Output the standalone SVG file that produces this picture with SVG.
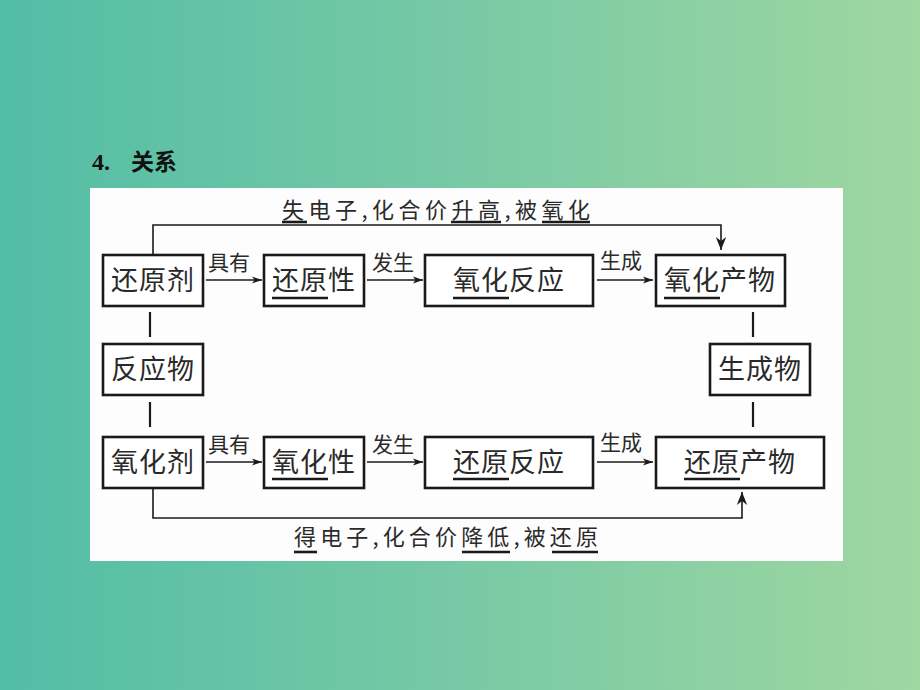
<svg xmlns="http://www.w3.org/2000/svg" width="920" height="690" viewBox="0 0 920 690">
<defs>
<linearGradient id="bg" x1="0" y1="0" x2="1" y2="0">
<stop offset="0" stop-color="#52bda6"/>
<stop offset="0.5" stop-color="#78c9a5"/>
<stop offset="1" stop-color="#9fd7a1"/>
</linearGradient>
<marker id="ah" viewBox="0 0 10 10" refX="10" refY="5" markerWidth="10" markerHeight="10" markerUnits="userSpaceOnUse" orient="auto">
<path d="M0,1.5 L10,5 L0,8.5 L2.5,5 Z" fill="#1a1a1a"/>
</marker>
<marker id="ah2" viewBox="0 0 10 10" refX="10" refY="5" markerWidth="13" markerHeight="13" markerUnits="userSpaceOnUse" orient="auto">
<path d="M0,1 L10,5 L0,9 L3,5 Z" fill="#1a1a1a"/>
</marker>
</defs>
<style>
.box{fill:#fff;stroke:#1a1a1a;stroke-width:2.6}
.t{font-family:"Noto Sans CJK SC","Noto Sans CJK JP",sans-serif;font-size:27px;fill:#2a2a2a;text-anchor:middle;letter-spacing:1px}
.lbl{font-family:"Noto Sans CJK SC","Noto Sans CJK JP",sans-serif;font-size:21px;fill:#2a2a2a}
.cap{font-family:"Noto Sans CJK SC","Noto Sans CJK JP",sans-serif;font-size:22px;fill:#2a2a2a}
.ul{stroke:#1a1a1a;stroke-width:2.6}
.ln{stroke:#1a1a1a;stroke-width:1.6;fill:none}
.vl{stroke:#1a1a1a;stroke-width:2.2}
</style>
<rect width="920" height="690" fill="url(#bg)"/>
<text x="92" y="170" font-family="Liberation Serif,serif" font-size="24" font-weight="bold" fill="#111">4.</text>
<text x="131" y="170" font-family="Noto Sans CJK SC,sans-serif" font-size="23" font-weight="bold" fill="#111">关系</text>
<rect x="90" y="188" width="753" height="373" fill="#fdfdfd"/>

<g id="connectors">
<path class="ln" d="M153,255 V225 H721 V250" marker-end="url(#ah2)"/>
<path class="ln" d="M153,488 V518 H742 V492" marker-end="url(#ah2)"/>
<line class="ln" x1="206" y1="280" x2="262" y2="280" marker-end="url(#ah)"/>
<line class="ln" x1="367" y1="280" x2="423" y2="280" marker-end="url(#ah)"/>
<line class="ln" x1="597" y1="280" x2="653" y2="280" marker-end="url(#ah)"/>
<line class="ln" x1="206" y1="462" x2="262" y2="462" marker-end="url(#ah)"/>
<line class="ln" x1="367" y1="462" x2="423" y2="462" marker-end="url(#ah)"/>
<line class="ln" x1="597" y1="462" x2="653" y2="462" marker-end="url(#ah)"/>
<line class="vl" x1="150" y1="312" x2="150" y2="337"/>
<line class="vl" x1="150" y1="402" x2="150" y2="427"/>
<line class="vl" x1="753" y1="312" x2="753" y2="337"/>
<line class="vl" x1="753" y1="402" x2="753" y2="427"/>
<text class="lbl" x="208" y="270">具有</text>
<text class="lbl" x="372" y="270">发生</text>
<text class="lbl" x="600" y="268">生成</text>
<text class="lbl" x="208" y="452">具有</text>
<text class="lbl" x="372" y="452">发生</text>
<text class="lbl" x="600" y="450">生成</text>
<text class="cap" x="282" y="218" textLength="308" lengthAdjust="spacing">失电子,化合价升高,被氧化</text>
<line class="ul" x1="282" y1="222" x2="307" y2="222"/>
<line class="ul" x1="451" y1="222" x2="501" y2="222"/>
<line class="ul" x1="542" y1="222" x2="590" y2="222"/>
<text class="cap" x="294" y="545" textLength="304" lengthAdjust="spacing">得电子,化合价降低,被还原</text>
<line class="ul" x1="294" y1="552" x2="317" y2="552"/>
<line class="ul" x1="462" y1="552" x2="510" y2="552"/>
<line class="ul" x1="552" y1="552" x2="598" y2="552"/>
</g>

<g id="n-huanyuanji"><rect class="box" x="103" y="255" width="100" height="51"/><text class="t" x="153" y="290">还原剂</text></g>
<g id="n-huanyuanxing"><rect class="box" x="264" y="255" width="100" height="51"/><text class="t" x="314" y="290">还原性</text><line class="ul" x1="272" y1="298" x2="328" y2="298"/></g>
<g id="n-yanghuafanying"><rect class="box" x="425" y="255" width="168" height="51"/><text class="t" x="509" y="290">氧化反应</text><line class="ul" x1="453" y1="298" x2="509" y2="298"/></g>
<g id="n-yanghuachanwu"><rect class="box" x="656" y="255" width="129" height="51"/><text class="t" x="720" y="290">氧化产物</text><line class="ul" x1="664" y1="298" x2="720" y2="298"/></g>
<g id="n-fanyingwu"><rect class="box" x="103" y="344" width="100" height="51"/><text class="t" x="153" y="379">反应物</text></g>
<g id="n-shengchengwu"><rect class="box" x="710" y="344" width="100" height="51"/><text class="t" x="760" y="379">生成物</text></g>
<g id="n-yanghuaji"><rect class="box" x="103" y="437" width="100" height="51"/><text class="t" x="153" y="472">氧化剂</text></g>
<g id="n-yanghuaxing"><rect class="box" x="264" y="437" width="100" height="51"/><text class="t" x="314" y="472">氧化性</text><line class="ul" x1="272" y1="479" x2="328" y2="479"/></g>
<g id="n-huanyuanfanying"><rect class="box" x="425" y="437" width="168" height="51"/><text class="t" x="509" y="472">还原反应</text><line class="ul" x1="453" y1="479" x2="509" y2="479"/></g>
<g id="n-huanyuanchanwu"><rect class="box" x="656" y="437" width="168" height="51"/><text class="t" x="740" y="472">还原产物</text><line class="ul" x1="684" y1="479" x2="740" y2="479"/></g>
</svg>
